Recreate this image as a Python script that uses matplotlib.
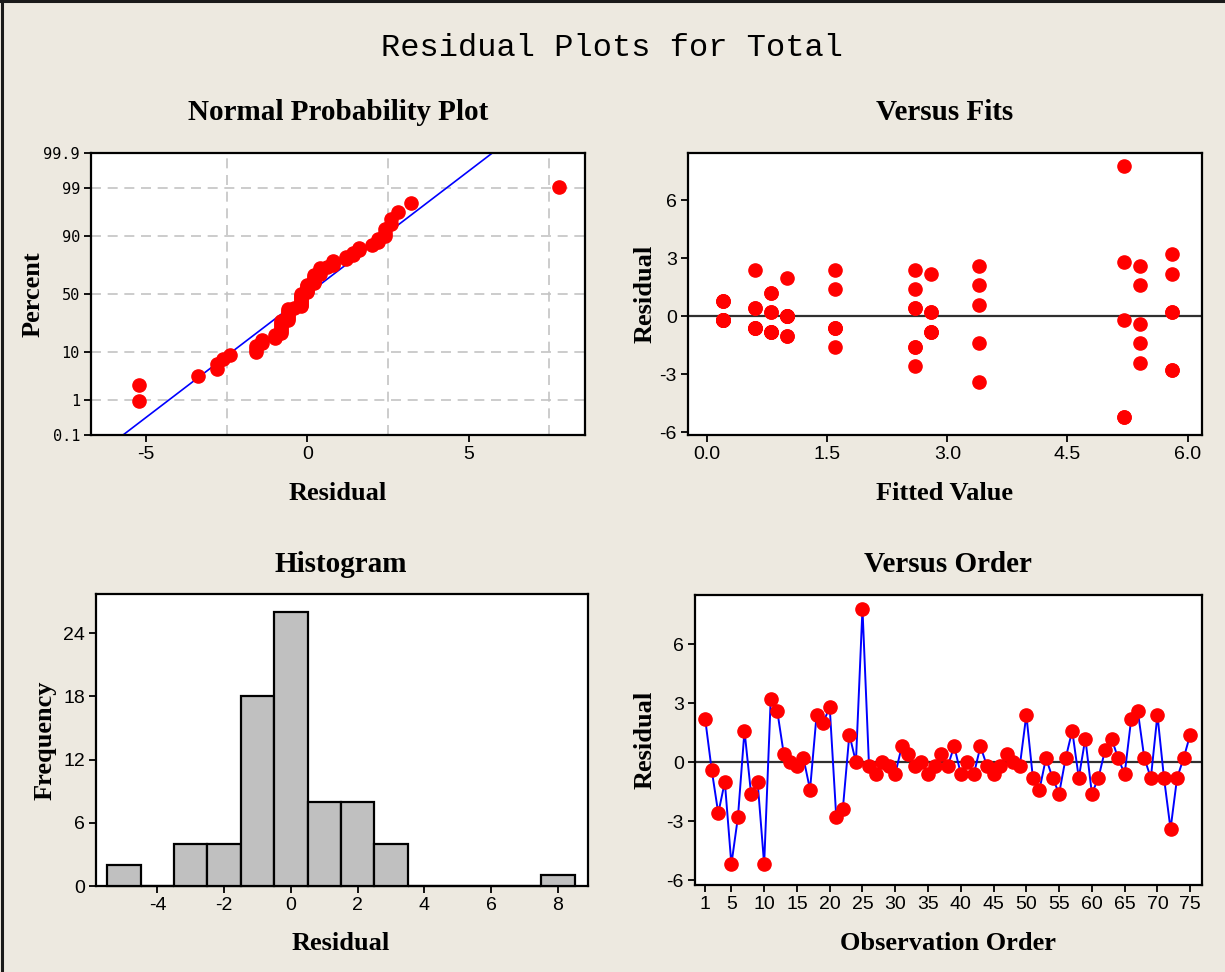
import numpy as np
import matplotlib
matplotlib.use("Agg")
import matplotlib.pyplot as plt
from matplotlib.lines import Line2D
from statistics import NormalDist

residuals = [2.2, -0.4, -2.6, -1.0, -5.2, -2.8, 1.6, -1.6, -1.0, -5.2,
             3.2, 2.6, 0.4, 0.0, -0.2, 0.2, -1.4, 2.4, 2.0, 2.8,
             -2.8, -2.4, 1.4, 0.0, 7.8, -0.2, -0.6, 0.0, -0.2, -0.6,
             0.8, 0.4, -0.2, 0.0, -0.6, -0.2, 0.4, -0.2, 0.8, -0.6,
             0.0, -0.6, 0.8, -0.2, -0.6, -0.2, 0.4, 0.0, -0.2, 2.4,
             -0.8, -1.4, 0.2, -0.8, -1.6, 0.2, 1.6, -0.8, 1.2, -1.6,
             -0.8, 0.6, 1.2, 0.2, -0.6, 2.2, 2.6, 0.2, -0.8, 2.4,
             -0.8, -3.4, -0.8, 0.2, 1.4]

# fitted value of each observation ("Versus Fits" panel)
fitted = [2.8, 5.4, 2.6, 1.0, 5.2, 5.8, 3.4, 1.6, 1.0, 5.2,
          5.8, 5.4, 0.6, 1.0, 5.2, 5.8, 5.4, 0.6, 1.0, 5.2,
          5.8, 5.4, 1.6, 1.0, 5.2, 0.2, 0.6, 1.0, 0.2, 1.6,
          0.2, 2.6, 0.2, 1.0, 0.6, 0.2, 0.6, 0.2, 0.2, 1.6,
          1.0, 0.6, 0.2, 0.2, 1.6, 0.2, 2.6, 1.0, 0.2, 1.6,
          0.8, 3.4, 0.8, 2.8, 2.6, 2.8, 5.4, 0.8, 0.8, 2.6,
          2.8, 3.4, 0.8, 5.8, 0.6, 5.8, 3.4, 0.8, 0.8, 2.6,
          2.8, 3.4, 0.8, 2.8, 2.6]

prob_ticks = [0.1, 1, 10, 50, 90, 99, 99.9]
prob_labels = ['0.1', '1', '10', '50', '90', '99', '99.9']
hist_edges = np.arange(-5.5, 9.0, 1.0)
order_ticks = [1, 5, 10, 15, 20, 25, 30, 35, 40, 45, 50, 55, 60, 65, 70, 75]

W, H = 1225, 972
bg = '#EDE9E0'
plt.rcParams['font.family'] = ['Liberation Sans Narrow', 'Liberation Sans', 'DejaVu Sans']
plt.rcParams['axes.unicode_minus'] = False
label_font = dict(family='Liberation Serif', weight='bold')

res = np.array(residuals)
n = len(res)
nd = NormalDist()


def box(x0, y0, x1, y1):
    # pixel box -> figure fraction
    return [x0 / W, 1 - y1 / H, (x1 - x0) / W, (y1 - y0) / H]


def style(ax):
    ax.set_facecolor('white')
    for s in ax.spines.values():
        s.set_linewidth(1.6)
        s.set_color('black')
    ax.tick_params(direction='out', length=5, width=1.3, labelsize=14, pad=3, color='black')


def ftext(x, y, s, **kw):
    fig.text(x / W, 1 - y / H, s, ha='center', va='center', **kw)


fig = plt.figure(figsize=(W / 100, H / 100), dpi=100, facecolor=bg)

# normal probability plot
ax1 = fig.add_axes(box(91, 153, 585, 435))
style(ax1)
srt = np.sort(res)
zq = [nd.inv_cdf((i - 0.3) / (n + 0.4)) for i in range(1, n + 1)]
zlim = np.array([nd.inv_cdf(0.001), nd.inv_cdf(0.999)])
mu, sd = res.mean(), res.std(ddof=1)
ax1.plot(mu + sd * zlim, zlim, color='blue', lw=1.2, zorder=2)
ax1.plot(srt, zq, 'o', color='red', ms=9.5, zorder=3)
ax1.set_xlim(-6.7, 8.6)
ax1.set_ylim(zlim)
ax1.set_xticks([-5, 0, 5])
ax1.set_xticks([-5, -2.5, 0, 2.5, 5, 7.5], minor=True)
ax1.set_yticks([nd.inv_cdf(p / 100) for p in prob_ticks])
ax1.set_yticklabels(prob_labels, fontsize=11, family='DejaVu Sans Mono')
ax1.tick_params(which='minor', length=0)
ax1.grid(True, which='minor', axis='x', color='#C4C4C4', ls=(0, (6, 4)), lw=1.2)
ax1.grid(True, which='major', axis='y', color='#C4C4C4', ls=(0, (6, 4)), lw=1.2)
ax1.set_axisbelow(True)

# versus fits
ax2 = fig.add_axes(box(688, 153, 1202, 435))
style(ax2)
ax2.axhline(0, color='#303030', lw=1.6, zorder=1)
ax2.plot(fitted, residuals, 'o', color='red', ms=9.5, zorder=3)
ax2.set_xlim(-0.24, 6.18)
ax2.set_ylim(-6.15, 8.45)
ax2.set_xticks([0, 1.5, 3, 4.5, 6])
ax2.set_xticklabels(['0.0', '1.5', '3.0', '4.5', '6.0'])
ax2.set_yticks([-6, -3, 0, 3, 6])

# histogram
ax3 = fig.add_axes(box(96, 594, 588, 886))
style(ax3)
_, _, bars = ax3.hist(res, bins=hist_edges, color='#C0C0C0', edgecolor='black', lw=1.6)
for b in bars:
    b.set_clip_on(False)
    b.set_zorder(3)
ax3.set_xlim(-5.84, 8.9)
ax3.set_ylim(0, 27.7)
ax3.set_xticks([-4, -2, 0, 2, 4, 6, 8])
ax3.set_yticks([0, 6, 12, 18, 24])

# versus order
ax4 = fig.add_axes(box(695, 595, 1202, 885))
style(ax4)
obs = np.arange(1, n + 1)
ax4.axhline(0, color='#303030', lw=1.6, zorder=1)
ax4.plot(obs, res, color='blue', lw=1.4, zorder=2)
ax4.plot(obs, res, 'o', color='red', ms=9.5, zorder=3)
ax4.set_xlim(-0.55, 76.8)
ax4.set_ylim(-6.25, 8.5)
ax4.set_xticks(order_ticks)
ax4.set_yticks([-6, -3, 0, 3, 6])

# titles and labels
ftext(612, 48, 'Residual Plots for Total', family='Liberation Mono', size=23)
ftext(338, 112, 'Normal Probability Plot', size=21, **label_font)
ftext(945, 112, 'Versus Fits', size=21, **label_font)
ftext(341, 565, 'Histogram', size=21, **label_font)
ftext(948, 565, 'Versus Order', size=21, **label_font)

ftext(338, 493, 'Residual', size=19, **label_font)
ftext(945, 493, 'Fitted Value', size=19, **label_font)
ftext(341, 943, 'Residual', size=19, **label_font)
ftext(948, 943, 'Observation Order', size=19, **label_font)

ftext(33, 294, 'Percent', size=19, rotation=90, **label_font)
ftext(645, 294, 'Residual', size=19, rotation=90, **label_font)
ftext(45, 740, 'Frequency', size=19, rotation=90, **label_font)
ftext(645, 740, 'Residual', size=19, rotation=90, **label_font)

# window frame on top and left edges
fig.add_artist(Line2D([0, 1], [1 - 1.5 / H, 1 - 1.5 / H], color='#1A1A1A', lw=2.2, transform=fig.transFigure))
fig.add_artist(Line2D([1.5 / W, 1.5 / W], [0, 1], color='#1A1A1A', lw=2.2, transform=fig.transFigure))

fig.savefig('out.png', dpi=100, facecolor=bg)
